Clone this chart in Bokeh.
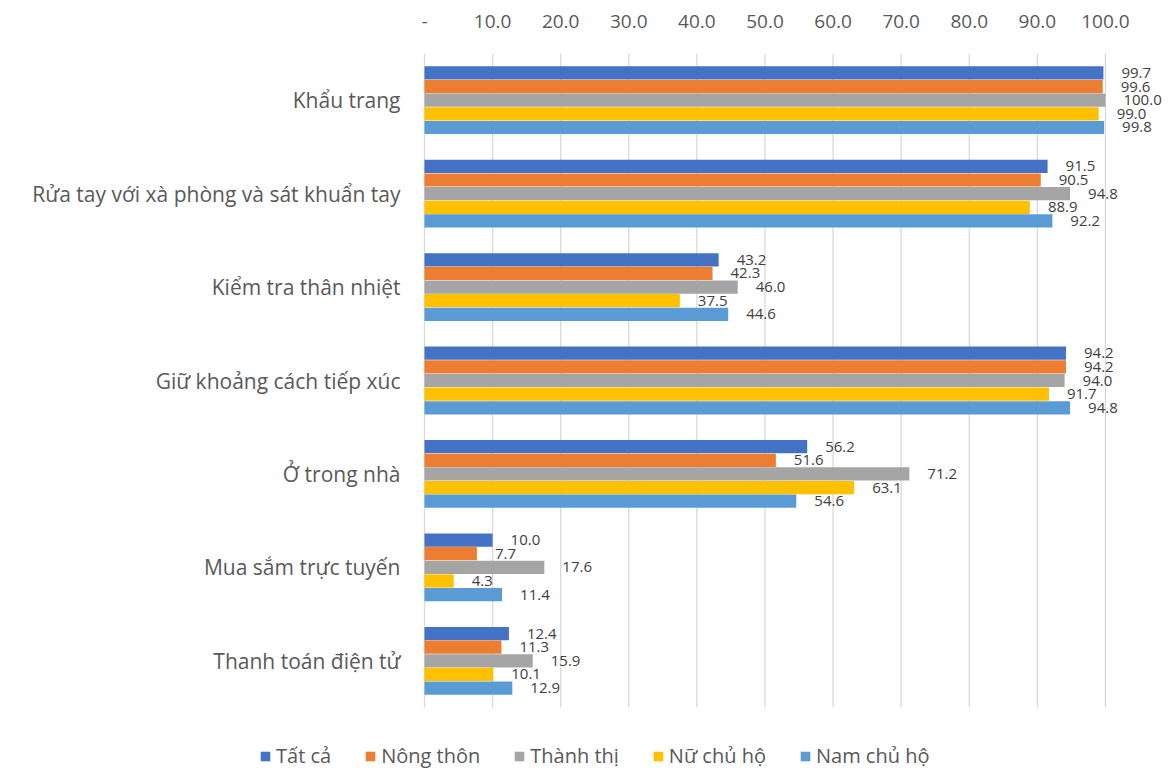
from bokeh.plotting import figure
from bokeh.models import (ColumnDataSource, Range1d, FixedTicker,
                          Legend, LegendItem)
from bokeh.core.properties import value
from bokeh.embed import file_html
from bokeh.resources import INLINE

categories = [
    "Khẩu trang",
    "Rửa tay với xà phòng và sát khuẩn tay",
    "Kiểm tra thân nhiệt",
    "Giữ khoảng cách tiếp xúc",
    "Ở trong nhà",
    "Mua sắm trực tuyến",
    "Thanh toán điện tử",
]
series_names = ["Tất cả", "Nông thôn", "Thành thị", "Nữ chủ hộ", "Nam chủ hộ"]
tat_ca = [99.7, 91.5, 43.2, 94.2, 56.2, 10.0, 12.4]
nong_thon = [99.6, 90.5, 42.3, 94.2, 51.6, 7.7, 11.3]
thanh_thi = [100.0, 94.8, 46.0, 94.0, 71.2, 17.6, 15.9]
nu_chu_ho = [99.0, 88.9, 37.5, 91.7, 63.1, 4.3, 10.1]
nam_chu_ho = [99.8, 92.2, 44.6, 94.8, 54.6, 11.4, 12.9]
ticks = [0, 10, 20, 30, 40, 50, 60, 70, 80, 90, 100]

series_values = [tat_ca, nong_thon, thanh_thi, nu_chu_ho, nam_chu_ho]
colors = ["#4472C4", "#ED7D31", "#A5A5A5", "#FFC000", "#5B9BD5"]

TEXT = "#595959"
FONT = "Open Sans"

n = len(categories)
# category rows: first category on top, one unit per row
rows = [n - 0.5 - i for i in range(n)]

# plotting area spans the full page width so the category names and the
# legend can be drawn as text next to the bars
p = figure(
    width=1173, height=774,
    x_range=Range1d(-62.26, 109.99),
    y_range=Range1d(-0.717, n),
    x_axis_location="above", y_axis_location=None,
    output_backend="svg", toolbar_location=None,
    min_border_left=0, min_border_right=0,
    min_border_top=53, min_border_bottom=0,
)
p.outline_line_color = None
p.background_fill_color = "white"
p.xgrid.grid_line_color = None
p.ygrid.grid_line_color = None

# vertical gridlines over the bar area
p.segment(x0=ticks, y0=[0] * len(ticks), x1=ticks, y1=[n] * len(ticks),
          line_color="#D9D9D9", line_width=1.3)

bar_h = 0.146
offsets = [2 * bar_h, bar_h, 0.0, -bar_h, -2 * bar_h]

items = []
for name, vals, col, off in zip(series_names, series_values, colors, offsets):
    src = ColumnDataSource(dict(
        y=[r + off for r in rows],
        val=vals,
        lbl=[f"{v:.1f}" for v in vals],
    ))
    r = p.hbar(y="y", right="val", left=0, height=bar_h * 0.97, source=src,
               fill_color=col, line_color=None)
    p.text(x="val", y="y", text="lbl", source=src, x_offset=18,
           text_align="left", text_baseline="middle", text_font=value(FONT),
           text_font_size="15px", text_color="#404040")
    items.append(LegendItem(label=name, renderers=[r]))

# category names to the left of the bars
p.text(x=[0] * n, y=rows, text=categories, x_offset=-24, text_align="right",
       text_baseline="middle", text_font=value(FONT), text_font_size="21px",
       text_color=TEXT)

# value axis on top
xa = p.xaxis[0]
xa.ticker = FixedTicker(ticks=ticks)
xa.major_label_overrides = {t: ("-" if t == 0 else f"{t:.1f}") for t in ticks}
xa.major_label_text_font = FONT
xa.major_label_text_font_size = "19px"
xa.major_label_text_color = TEXT
xa.axis_line_color = None
xa.major_tick_line_color = None
xa.minor_tick_line_color = None
xa.major_label_standoff = 20

legend = Legend(items=items, orientation="horizontal", location=(259, 5),
                label_text_font=FONT, label_text_font_size="20px",
                label_text_color=TEXT, glyph_width=12, glyph_height=12,
                label_height=20, spacing=33, label_standoff=5,
                border_line_color=None, background_fill_alpha=0,
                margin=0, padding=0)
p.add_layout(legend, "center")

open("out.html", "w").write(file_html(p, INLINE))
